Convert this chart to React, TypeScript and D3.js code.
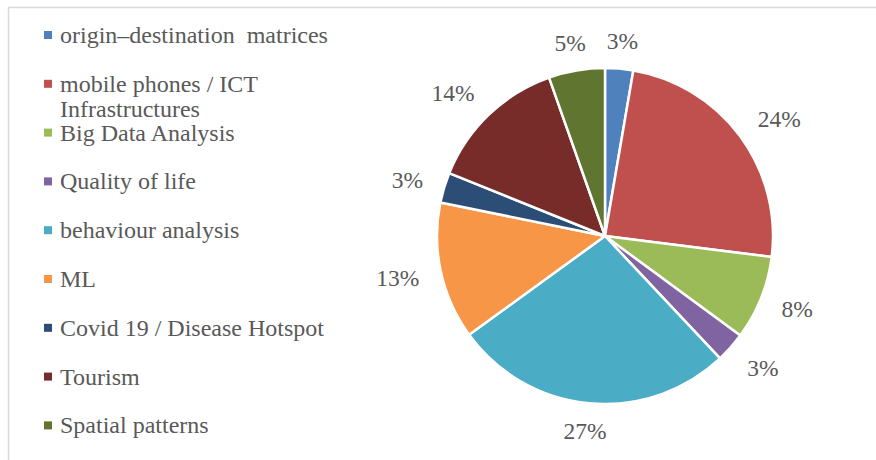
import * as d3 from 'd3';
import React, { useEffect, useRef } from 'react';

// Topics and their share of the papers (percent)
const categories = [
    'origin–destination  matrices',
    'mobile phones / ICT\nInfrastructures',
    'Big Data Analysis',
    'Quality of life',
    'behaviour analysis',
    'ML',
    'Covid 19 / Disease Hotspot',
    'Tourism',
    'Spatial patterns',
];
const shares = [2.7, 24.3, 8.1, 2.9, 27.0, 13.2, 2.9, 13.5, 5.4];
const colors = ['#4F81BD', '#C0504D', '#9BBB59', '#8064A2', '#4BACC6', '#F79646', '#2C4D75', '#772C2A', '#5F7530'];

const W = 876;
const H = 460;
const FONT = 'Liberation Serif';
const TEXT = '#595959';

function App() {
    const svgRef = useRef<SVGSVGElement>(null);

    useEffect(() => {
        const svg = d3.select(svgRef.current);
        svg.selectAll('*').remove();

        // chart frame (only top / left edges are inside the picture)
        svg.append('rect')
            .attr('x', 8.5).attr('y', 7.5)
            .attr('width', W + 20).attr('height', H + 20)
            .attr('fill', 'white')
            .attr('stroke', '#d9d9d9')
            .attr('stroke-width', 1.5);

        // Legend
        const rowY = d3.scaleLinear().domain([0, 1]).range([43, 91.8]);
        const legend = svg.append('g');
        categories.forEach((name, i) => {
            const y = rowY(i);
            legend.append('rect')
                .attr('x', 44).attr('y', y - 12)
                .attr('width', 8).attr('height', 8)
                .attr('fill', colors[i]);
            const t = legend.append('text')
                .attr('x', 60).attr('y', y)
                .attr('font-family', FONT)
                .attr('font-size', 24)
                .style('white-space', 'pre')
                .attr('fill', TEXT);
            name.split('\n').forEach((line, j) => {
                t.append('tspan')
                    .attr('x', 60)
                    .attr('dy', j === 0 ? 0 : 25)
                    .text(line);
            });
        });

        // Pie
        const cx = 605;
        const cy = 236;
        const r = 168;
        const pie = d3.pie<number>().sort(null).value((d) => d);
        const arcs = pie(shares);
        const arc = d3.arc<d3.PieArcDatum<number>>().innerRadius(0).outerRadius(r);
        const g = svg.append('g').attr('transform', `translate(${cx},${cy})`);

        g.selectAll('path')
            .data(arcs)
            .enter()
            .append('path')
            .attr('d', arc)
            .attr('fill', (d, i) => colors[i])
            .attr('stroke', 'white')
            .attr('stroke-width', 2.5)
            .attr('stroke-linejoin', 'round');

        // Data labels placed just outside each slice
        const fmt = (v: number) => `${Math.round(v)}%`;
        arcs.forEach((a) => {
            const mid = (a.startAngle + a.endAngle) / 2;
            const s = Math.sin(mid);
            const c = -Math.cos(mid);
            const t = g.append('text')
                .attr('dy', '0.35em')
                .attr('text-anchor', 'middle')
                .attr('font-family', FONT)
                .attr('font-size', 23.5)
                .attr('fill', TEXT)
                .text(fmt(a.data));
            const w = (t.node() as SVGTextElement).getComputedTextLength();
            const h = 12;
            const m = Math.max(Math.abs(s), Math.abs(c));
            const lx = (r + 22) * s + (s / m) * w / 2;
            const ly = (r + 22) * c + (c / m) * h / 2;
            t.attr('x', lx).attr('y', ly);
        });
    }, []);

    return (
        <svg
            ref={svgRef}
            width={W}
            height={H}
            style={{ position: 'absolute', left: 0, top: 0, background: 'white' }}
        />
    );
}

export default App;
